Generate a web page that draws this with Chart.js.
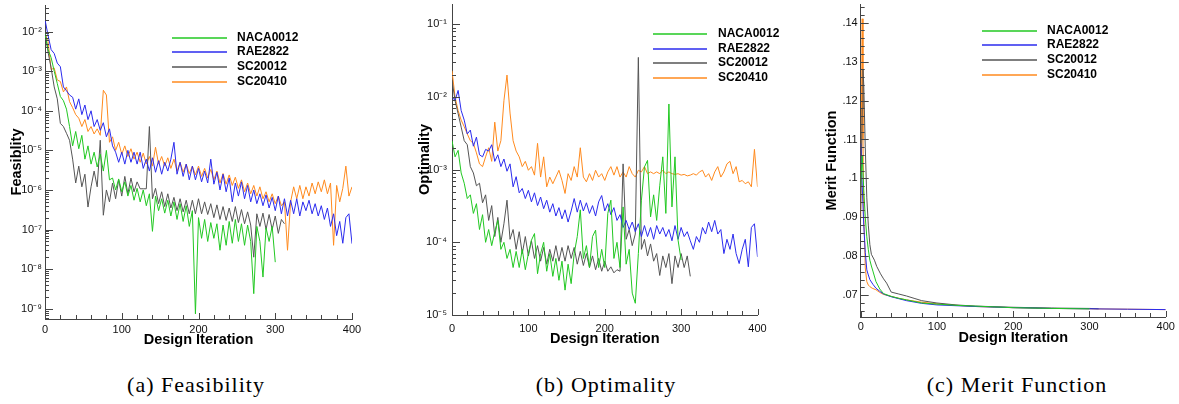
<!DOCTYPE html>
<html lang="en">
<head>
    <meta charset="UTF-8">
    <title>Feasibility, Optimality and Merit Function</title>
    <script src="https://cdn.jsdelivr.net/npm/chart.js@4"></script>
    <style>
        body { margin: 0; background: #fff; }
        #wrap { position: relative; width: 1179px; height: 404px; background: #fff; overflow: hidden; }
        canvas { position: absolute; top: 0; }
        .cap {
            position: absolute; top: 372px; width: 300px; text-align: center;
            font-family: "Liberation Serif", "DejaVu Serif", serif; font-size: 22px;
            letter-spacing: 1px; line-height: 26px; color: #000;
        }
    </style>
</head>
<body>
<div id="wrap">
    <canvas id="feas" width="365" height="350" style="left:0px;width:365px;height:350px"></canvas>
    <canvas id="opt" width="380" height="350" style="left:405px;width:380px;height:350px"></canvas>
    <canvas id="merit" width="364" height="350" style="left:815px;width:364px;height:350px"></canvas>
    <div class="cap" style="left:46px">(a) Feasibility</div>
    <div class="cap" style="left:456px">(b) Optimality</div>
    <div class="cap" style="left:867px">(c) Merit Function</div>
</div>

<script>
    // design iterations (every 4th iteration)
    const iterations = [0,4,8,12,16,20,24,28,32,36,40,44,48,52,56,60,64,68,72,76,80,84,88,92,96,100,
        104,108,112,116,120,124,128,132,136,140,144,148,152,156,160,164,168,172,176,180,184,188,192,196,200,
        204,208,212,216,220,224,228,232,236,240,244,248,252,256,260,264,268,272,276,280,284,288,292,296,300,
        304,308,312,316,320,324,328,332,336,340,344,348,352,356,360,364,368,372,376,380,384,388,392,396,400];

    const seriesNames = ['NACA0012', 'RAE2822', 'SC20012', 'SC20410'];

    // (a) feasibility
    const feasNACA0012 = [9e-3,3.5e-3,2.2e-3,1.0e-3,4.9e-4,2.3e-4,1.8e-4,1.1e-4,4e-5,1.3e-5,
        3e-5,1.1e-5,2.4e-5,6e-6,1.3e-5,4.5e-6,9e-6,3.8e-6,8e-6,3e-6,
        1e-5,1.8e-6,2e-6,1e-6,1.9e-6,9e-7,1.6e-6,7e-7,1.3e-6,5.5e-7,
        1.1e-6,5e-7,1e-6,4e-7,8e-7,9e-8,7e-7,3e-7,6e-7,2.6e-7,
        5.5e-7,2.2e-7,5e-7,1.8e-7,4.5e-7,1.6e-7,4e-7,1.2e-7,3e-7,7.4e-10,
        2e-7,6e-8,1.8e-7,5e-8,1.5e-7,6e-8,1.4e-7,3e-8,1.3e-7,4e-8,
        1.6e-7,4.5e-8,1.8e-7,5e-8,1.4e-7,4e-8,1.3e-7,5e-8,2.4e-9,1.2e-7,
        5e-8,6.3e-9,1.1e-7,5e-8,1.2e-7,1.5e-8];
    const feasRAE2822 = [2e-2,8e-3,3.5e-3,2.8e-3,1.6e-3,1.3e-3,4e-4,3.2e-4,2.5e-4,2.2e-4,
        1.1e-4,2e-4,8e-5,1.4e-4,6e-5,1e-4,4e-5,6e-5,3.2e-5,5e-5,
        2.2e-5,3.5e-5,1.3e-5,9e-6,5e-6,9e-6,4.5e-6,1e-5,5e-6,9e-6,
        4.5e-6,9e-6,3.5e-6,6e-6,3e-6,6.5e-6,2.8e-6,5.5e-6,2.5e-6,5e-6,
        3e-6,6e-6,1.6e-5,2.5e-6,5e-6,2.2e-6,4.5e-6,1.8e-6,4e-6,1.8e-6,
        3.5e-6,1.6e-6,3e-6,1.5e-6,6e-6,1.4e-6,2.8e-6,1e-6,2.5e-6,9e-7,
        2e-6,5e-7,1.5e-6,7e-7,1.6e-6,6e-7,1.3e-6,5e-7,1e-6,4.5e-7,
        8e-7,4e-7,7.5e-7,3.5e-7,6.5e-7,3e-7,7e-7,2.5e-7,6e-7,2.2e-7,
        5.5e-7,2.5e-7,6e-7,2.2e-7,5e-7,3e-7,5.5e-7,2.5e-7,4.5e-7,2.2e-7,
        4e-7,1.8e-7,3.5e-7,1.2e-7,2.5e-7,7e-8,1.6e-7,4.5e-8,2e-7,2.5e-7,
        4.4e-8];
    const feasSC20012 = [1e-2,3e-3,1.2e-3,4e-4,2e-4,4.8e-5,4e-5,2.7e-5,1.8e-5,6e-6,
        1.5e-6,4e-6,1.2e-6,2.5e-6,3.7e-7,1.2e-6,3e-6,1.2e-6,1.8e-5,2.3e-7,
        1e-6,5e-7,1.5e-6,6e-7,1.8e-6,7e-7,2.2e-6,8e-7,2e-6,9e-7,
        1.6e-6,1.07e-6,1.07e-6,1.07e-6,4e-5,6e-7,1.1e-6,4.5e-7,9e-7,3.8e-7,
        8e-7,3.5e-7,6.5e-7,3e-7,6e-7,2.8e-7,5.5e-7,2.5e-7,5.5e-7,2.5e-7,
        6e-7,2.5e-7,5e-7,2.4e-7,4.5e-7,2e-7,4.2e-7,1.8e-7,3.8e-7,1.7e-7,
        3.5e-7,1.6e-7,3.8e-7,1.5e-7,3.2e-7,1.4e-7,2.8e-7,1.3e-7,2e-8,2.5e-7,
        1.2e-7,2.6e-7,1e-7,2.4e-7,1e-7,2.2e-7,8e-8,1.8e-7,1.4e-7];
    const feasSC20410 = [9e-3,5.6e-3,1.1e-3,1.2e-3,6e-4,5.5e-4,3e-4,4e-4,1.7e-4,1.2e-4,
        8e-5,6.5e-5,4e-5,6e-5,3e-5,4e-5,2.6e-5,3.5e-5,2.4e-5,3.3e-4,
        2.5e-4,1.6e-5,2.2e-5,1e-5,1.6e-5,8e-6,1.3e-5,7e-6,1.1e-5,6e-6,
        9e-6,5e-6,8.5e-6,4.5e-6,7e-6,4e-6,1.2e-5,4.5e-6,7e-6,4e-6,
        6.5e-6,3.5e-6,6e-6,3e-6,5e-6,2.8e-6,4.5e-6,2.6e-6,4e-6,2.4e-6,
        4e-6,2.2e-6,3.5e-6,2e-6,3.3e-6,1.8e-6,3e-6,1.5e-6,2.6e-6,1.4e-6,
        2.4e-6,1.3e-6,2.1e-6,1.1e-6,1.8e-6,9e-7,1.5e-6,8e-7,1.3e-6,7e-7,
        1.2e-6,6e-7,9e-7,5e-7,8e-7,4.5e-7,7e-7,4e-7,5e-7,3e-8,
        5e-7,1.2e-6,6e-7,1.3e-6,6e-7,1.2e-6,7e-7,1.5e-6,8e-7,1.6e-6,
        9e-7,1.8e-6,8e-7,1.5e-6,4e-8,1.3e-6,5e-7,1.1e-6,4e-6,7e-7,
        1.2e-6];

    // (b) optimality
    const optNACA0012 = [2.5e-3,1.5e-3,1.84e-3,9e-4,6.5e-4,4e-4,4.5e-4,2.5e-4,3.4e-4,1.5e-4,
        2.4e-4,1e-4,1.5e-4,9e-5,1.4e-4,2e-4,8e-5,1e-4,6e-5,8e-5,
        4.5e-5,7.5e-5,4.5e-5,8e-5,4.2e-5,7e-5,1.07e-4,1.32e-4,3.7e-5,7e-5,
        1e-4,4e-5,7e-5,3.4e-5,6e-5,3e-5,5.5e-5,2.2e-5,5e-5,2.7e-5,
        7e-5,1.2e-4,2.8e-4,6e-5,9e-5,4.5e-5,1.2e-4,1.47e-4,4.5e-5,8e-5,
        4.5e-5,2.5e-4,3.8e-4,6e-5,1e-4,4.5e-5,3.07e-4,5e-5,8e-5,2e-5,
        1.45e-5,7e-5,3.8e-4,1.09e-3,1.34e-3,2.24e-4,4.5e-4,2e-4,6e-4,1.5e-3,
        2.5e-4,8e-3,3.07e-4,1.5e-3,1.07e-4,5.7e-5];
    const optRAE2822 = [1e-2,8.9e-3,1.23e-2,6.5e-3,4.8e-3,3.1e-3,3.5e-3,2.1e-3,2.8e-3,1.6e-3,
        1.5e-3,1.9e-3,1.8e-3,2.2e-3,1.3e-3,1.6e-3,1.1e-3,1.4e-3,9.5e-4,1.2e-3,
        5.8e-4,8e-4,4.8e-4,5.5e-4,4e-4,5.2e-4,3.6e-4,4.8e-4,3.2e-4,4.2e-4,
        2.9e-4,3.8e-4,2.6e-4,3.4e-4,2.3e-4,3e-4,2.1e-4,2.8e-4,1.9e-4,2.7e-4,
        4e-4,2.6e-4,3.8e-4,2.7e-4,3.5e-4,2.5e-4,3.2e-4,2.3e-4,3.6e-4,4.4e-4,
        2.7e-4,3.4e-4,2.4e-4,3e-4,2e-4,2.4e-4,1.6e-4,2e-4,1.5e-4,1.9e-4,
        1.4e-4,1.8e-4,1.2e-4,1.7e-4,1.2e-4,1.6e-4,1.1e-4,1.7e-4,1.3e-4,1.6e-4,
        1.2e-4,1.5e-4,1.05e-4,1.7e-4,1.1e-4,1.6e-4,1.2e-4,1.4e-4,1.05e-4,8e-5,
        1.2e-4,1e-4,1.6e-4,1.3e-4,1.9e-4,1.4e-4,2e-4,1.3e-4,1.5e-4,7e-5,
        1.1e-4,8e-5,1.3e-4,7e-5,5.1e-5,8e-5,1.1e-4,4.6e-5,1.6e-4,1.8e-4,
        6.3e-5];
    const optSC20012 = [1.7e-2,8.9e-3,5.9e-3,3.85e-3,2.5e-3,2.2e-3,1.1e-3,9e-4,6e-4,6.5e-4,
        3.5e-4,4.5e-4,2e-4,3.2e-4,1.2e-4,2.2e-4,1e-4,1.8e-4,3.8e-4,1.1e-4,
        1.5e-4,8e-5,1.4e-4,7e-5,1.2e-4,6.5e-5,1.05e-4,6e-5,9e-5,5.5e-5,
        8.5e-5,5e-5,8e-5,5.5e-5,9e-5,5.5e-5,8.5e-5,5.5e-5,9e-5,6e-5,
        8.5e-5,5e-5,7.5e-5,4.8e-5,7e-5,4.5e-5,6.5e-5,4.2e-5,6e-5,4e-5,
        5.5e-5,4e-5,4.6e-5,3.8e-5,4.2e-5,4e-5,1.2e-3,1.1e-4,1.5e-4,9e-5,
        1.3e-4,3.5e-2,8e-5,1.1e-4,6.5e-5,9.5e-5,5.5e-5,7e-5,3.5e-5,6.5e-5,
        4.5e-5,7e-5,2.7e-5,6.5e-5,4.5e-5,7e-5,4.5e-5,6.5e-5,3.4e-5];
    const optSC20410 = [2.3e-2,1e-2,6.5e-3,4.8e-3,3.9e-3,3.1e-3,2.5e-3,2.3e-3,1.7e-3,1.2e-3,
        1.1e-3,1.5e-3,2e-3,1.3e-3,4.5e-3,1.8e-3,2.5e-3,8.9e-3,2e-2,6e-3,
        2.5e-3,1.8e-3,1.5e-3,1.1e-3,1.3e-3,9.8e-4,1.1e-3,8.4e-4,2.3e-3,7.9e-4,
        1.5e-3,5.8e-4,7.9e-4,6.4e-4,7.9e-4,9.8e-4,7.1e-4,4.7e-4,8.8e-4,7.1e-4,
        1.1e-3,7.9e-4,2e-3,7.9e-4,6.8e-4,8.8e-4,7.1e-4,9.8e-4,7.9e-4,8.8e-4,
        7.1e-4,9.3e-4,1.1e-3,8.4e-4,1.1e-3,7.9e-4,9.3e-4,7.9e-4,1.1e-3,8.8e-4,
        7.9e-4,9.8e-4,9.3e-4,1.1e-3,8.8e-4,9.3e-4,8.8e-4,9.3e-4,8.8e-4,9.8e-4,
        8.8e-4,9.3e-4,8.8e-4,8.6e-4,8.8e-4,8.4e-4,8.6e-4,8.2e-4,8.4e-4,8.8e-4,
        8.4e-4,9.3e-4,9.8e-4,7.9e-4,8.8e-4,7.1e-4,9.3e-4,1.1e-3,7.9e-4,9.3e-4,
        1.2e-3,1.3e-3,8.8e-4,1.1e-3,6.8e-4,7.1e-4,6.4e-4,6.8e-4,5.8e-4,1.9e-3,
        5.8e-4];

    // (c) merit function (iterations listed per series)
    const meritIterNACA0012 = [0,2,4,6,8,10,12,14,16,20,25,30,40,50,60,80,100,125,150,200,250,300];
    const meritNACA0012 = [0.098,0.106,0.097,0.090,0.085,0.0817,0.079,0.0775,0.0762,0.0735,0.0716,0.0704,
        0.0697,0.0692,0.0688,0.0680,0.0677,0.0674,0.0672,0.0668,0.0666,0.0665];
    const meritIterRAE2822 = [0,2,4,6,8,10,12,16,20,25,30,40,50,60,80,100,125,150,200,250,300,350,400];
    const meritRAE2822 = [0.109,0.098,0.088,0.081,0.0765,0.0752,0.074,0.0728,0.0718,0.071,0.0703,0.0696,
        0.0691,0.0686,0.0679,0.0675,0.0673,0.0671,0.0668,0.0666,0.0665,0.0664,0.0663];
    const meritIterSC20012 = [0,2,3,4,6,8,10,12,14,18,21,26,30,34,40,50,60,70,80,100,125,150,200,250,300,312];
    const meritSC20012 = [0.092,0.118,0.128,0.124,0.108,0.095,0.088,0.083,0.0805,0.079,0.0774,0.0755,0.0742,
        0.0731,0.0708,0.0703,0.0698,0.0692,0.0686,0.068,0.0675,0.0672,0.0669,0.0667,0.0666,0.0665];
    const meritIterSC20410 = [0,1,2,3,4,5,6,8,10,12,15,20,25,30,40,50,60,80,100,125,150,200,250,300,350,400];
    const meritSC20410 = [0.090,0.118,0.141,0.110,0.090,0.085,0.077,0.0735,0.0726,0.0722,0.0718,0.0714,0.0707,
        0.0702,0.0697,0.0692,0.0688,0.0682,0.0678,0.0674,0.0671,0.0668,0.0666,0.0665,0.0664,0.0663];

    const colors = ['#22c822', '#2b2bee', '#555555', '#ff8a1e'];
    const sansFont = '"Liberation Sans", Arial, Helvetica, sans-serif';

    const sup = {'-': '\u207B', '0': '\u2070', '1': '\u00B9', '2': '\u00B2', '3': '\u00B3',
        '4': '\u2074', '5': '\u2075', '6': '\u2076', '7': '\u2077', '8': '\u2078', '9': '\u2079'};
    function decadeLabel(v) {
        const e = Math.log10(v), r = Math.round(e);
        if (Math.abs(e - r) > 1e-6) return '';
        return '10' + String(r).split('').map(c => sup[c]).join('');
    }
    function meritLabel(v) {
        if (Math.abs(v * 100 - Math.round(v * 100)) > 1e-6) return '';
        return String(+v.toFixed(2)).replace(/^0/, '');
    }

    function pts(xs, ys) {
        return ys.map((v, i) => ({x: xs[i], y: v}));
    }

    // tick marks drawn inward, like the original plots
    const innerTicks = {
        id: 'innerTicks',
        afterDraw(chart, args, o) {
            const ctx = chart.ctx, xs = chart.scales.x, ys = chart.scales.y;
            const a = chart.chartArea;
            ctx.save();
            ctx.strokeStyle = '#444';
            ctx.lineWidth = 1;
            ctx.beginPath();
            for (let v = xs.min; v <= xs.max + 1e-9; v += o.xMinor) {
                const px = Math.round(xs.getPixelForValue(v)) + 0.5;
                const len = (Math.round(v) % o.xMajor === 0) ? 6 : 4;
                ctx.moveTo(px, a.bottom);
                ctx.lineTo(px, a.bottom - len);
            }
            if (o.log) {
                const d0 = Math.floor(Math.log10(ys.min)), d1 = Math.ceil(Math.log10(ys.max));
                for (let d = d0; d <= d1; d++) {
                    for (let m = 1; m <= 9; m++) {
                        const v = m * Math.pow(10, d);
                        if (v < ys.min || v > ys.max) continue;
                        const py = Math.round(ys.getPixelForValue(v)) + 0.5;
                        ctx.moveTo(a.left, py);
                        ctx.lineTo(a.left + (m === 1 ? 8 : 4), py);
                    }
                }
            } else {
                const n = Math.round(o.yMajor / o.yMinor);
                const k0 = Math.ceil(ys.min / o.yMinor - 1e-6), k1 = Math.floor(ys.max / o.yMinor + 1e-6);
                for (let k = k0; k <= k1; k++) {
                    const py = Math.round(ys.getPixelForValue(k * o.yMinor)) + 0.5;
                    ctx.moveTo(a.left, py);
                    ctx.lineTo(a.left + (k % n === 0 ? 8 : 4), py);
                }
            }
            ctx.stroke();
            ctx.restore();
        }
    };

    // legend drawn inside the plot, as in the original figures
    const boxLegend = {
        id: 'boxLegend',
        afterDraw(chart, args, o) {
            const ctx = chart.ctx;
            ctx.save();
            ctx.font = 'bold 12px ' + sansFont;
            ctx.textBaseline = 'middle';
            ctx.textAlign = 'left';
            seriesNames.forEach((name, i) => {
                const yy = Math.round(o.top + i * o.gap);
                ctx.strokeStyle = colors[i];
                ctx.lineWidth = 1.5;
                ctx.beginPath();
                ctx.moveTo(o.x1, yy);
                ctx.lineTo(o.x2, yy);
                ctx.stroke();
                ctx.fillStyle = '#000';
                ctx.fillText(name, o.tx, yy);
            });
            ctx.restore();
        }
    };

    function makeChart(id, cfg) {
        const datasets = cfg.series.map((s, i) => ({
            label: seriesNames[i],
            data: s,
            borderColor: colors[i],
            backgroundColor: colors[i],
            borderWidth: 1,
            pointRadius: 0,
            tension: 0,
            fill: false
        }));
        const el = document.getElementById(id);
        return new Chart(el.getContext('2d'), {
            type: 'line',
            data: {datasets: datasets},
            plugins: [innerTicks, boxLegend],
            options: {
                responsive: false,
                animation: false,
                devicePixelRatio: 1,
                layout: {padding: {left: 0, top: cfg.top, right: el.width - cfg.right, bottom: 0}},
                plugins: {
                    legend: {display: false},
                    tooltip: {enabled: false},
                    innerTicks: cfg.ticks,
                    boxLegend: cfg.legend
                },
                scales: {
                    x: {
                        type: 'linear',
                        min: 0,
                        max: 400,
                        grid: {display: false, drawTicks: false},
                        border: {display: true, color: '#444', width: 1},
                        ticks: {stepSize: 100, maxRotation: 0, autoSkip: false, padding: cfg.xPad,
                            color: '#111', font: {family: sansFont, size: 11}},
                        title: {display: true, text: 'Design Iteration', color: '#000',
                            font: {family: sansFont, size: 14.5, weight: 'bold'},
                            padding: {top: 0, bottom: cfg.xTitlePad}},
                        afterFit(s) { s.height = el.height - cfg.bottom; s.paddingLeft = 0; s.paddingRight = 0; }
                    },
                    y: {
                        type: cfg.yType,
                        min: cfg.yMin,
                        max: cfg.yMax,
                        grid: {display: false, drawTicks: false},
                        border: {display: true, color: '#444', width: 1},
                        ticks: {autoSkip: false, padding: cfg.yPad, stepSize: cfg.yStep,
                            color: '#111', font: {family: sansFont, size: 11},
                            callback: cfg.yLabel},
                        title: {display: true, text: cfg.yTitle, color: '#000',
                            font: {family: sansFont, size: 14.5, weight: 'bold'},
                            padding: {top: cfg.yTitlePad, bottom: 0}},
                        afterFit(s) { s.width = cfg.left; s.paddingTop = 0; s.paddingBottom = 0; }
                    }
                }
            }
        });
    }

    makeChart('feas', {
        series: [pts(iterations, feasNACA0012), pts(iterations, feasRAE2822),
                 pts(iterations, feasSC20012), pts(iterations, feasSC20410)],
        left: 45, right: 352, top: 5, bottom: 319,
        yType: 'logarithmic', yMin: 5.5e-10, yMax: 0.047, yLabel: decadeLabel,
        yTitle: 'Feasiblity', yTitlePad: 8.5, yPad: 3, xPad: 4, xTitlePad: 1.3,
        ticks: {log: true, xMinor: 20, xMajor: 100},
        legend: {x1: 172, x2: 227, tx: 237, top: 37.5, gap: 14.7}
    });

    makeChart('opt', {
        series: [pts(iterations, optNACA0012), pts(iterations, optRAE2822),
                 pts(iterations, optSC20012), pts(iterations, optSC20410)],
        left: 47, right: 352.5, top: 4, bottom: 315,
        yType: 'logarithmic', yMin: 1e-5, yMax: 0.19, yLabel: decadeLabel,
        yTitle: 'Optimality', yTitlePad: 11.3, yPad: 5, xPad: 7, xTitlePad: 2.3,
        ticks: {log: true, xMinor: 20, xMajor: 100},
        legend: {x1: 248, x2: 302, tx: 313, top: 34, gap: 14.7}
    });

    makeChart('merit', {
        series: [pts(meritIterNACA0012, meritNACA0012), pts(meritIterRAE2822, meritRAE2822),
                 pts(meritIterSC20012, meritSC20012), pts(meritIterSC20410, meritSC20410)],
        left: 45.7, right: 350.7, top: 4, bottom: 317,
        yType: 'linear', yMin: 0.0644, yMax: 0.1448, yStep: 0.01, yLabel: meritLabel,
        yTitle: 'Merit Function', yTitlePad: 7.8, yPad: 3, xPad: 3.5, xTitlePad: 3,
        ticks: {log: false, xMinor: 20, xMajor: 100, yMinor: 0.002, yMajor: 0.01},
        legend: {x1: 167, x2: 222, tx: 232, top: 30.7, gap: 14.6}
    });
</script>
</body>
</html>
